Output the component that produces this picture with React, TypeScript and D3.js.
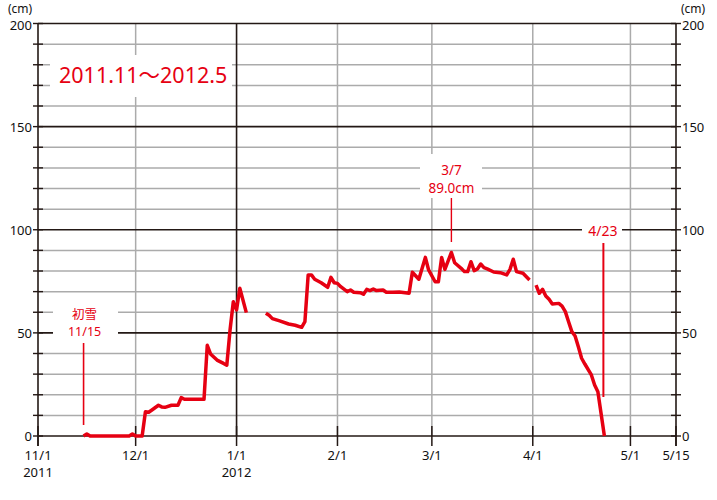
import React from "react";
import * as d3 from "d3";

// ---- data ----
const obsDates: string[] = [
  "2011-11-15","2011-11-16","2011-11-17","2011-11-29","2011-11-30","2011-12-01","2011-12-03",
  "2011-12-04","2011-12-05","2011-12-06","2011-12-08","2011-12-09","2011-12-10","2011-12-12",
  "2011-12-14","2011-12-15","2011-12-16","2011-12-22","2011-12-23","2011-12-24","2011-12-26",
  "2011-12-28","2011-12-29","2011-12-30","2011-12-31","2012-01-01","2012-01-02","2012-01-04",
  "2012-01-07",
  "2012-01-10","2012-01-11","2012-01-12","2012-01-14","2012-01-17","2012-01-19","2012-01-21",
  "2012-01-22","2012-01-23","2012-01-24","2012-01-25","2012-01-27","2012-01-29","2012-01-30",
  "2012-01-31","2012-02-01","2012-02-02","2012-02-04","2012-02-05","2012-02-06","2012-02-08",
  "2012-02-09","2012-02-10","2012-02-11","2012-02-12","2012-02-13","2012-02-15","2012-02-16",
  "2012-02-18","2012-02-20","2012-02-23","2012-02-24","2012-02-26","2012-02-28","2012-02-29",
  "2012-03-02","2012-03-03","2012-03-04","2012-03-05","2012-03-07","2012-03-08","2012-03-10",
  "2012-03-11","2012-03-12","2012-03-13","2012-03-14","2012-03-15","2012-03-16","2012-03-17",
  "2012-03-18","2012-03-20","2012-03-22","2012-03-24","2012-03-25","2012-03-26","2012-03-27",
  "2012-03-29","2012-03-31",
  "2012-04-01",
  "2012-04-02","2012-04-03","2012-04-04","2012-04-05","2012-04-06","2012-04-07","2012-04-09",
  "2012-04-10","2012-04-11","2012-04-12","2012-04-13","2012-04-14","2012-04-15","2012-04-16",
  "2012-04-17","2012-04-19","2012-04-20","2012-04-21","2012-04-23",
];
const snowDepth: (number | null)[] = [
  0, 1, 0, 0, 1, 0, 0,
  11.8, 11.5, 12.6, 14.9, 14.1, 13.9, 14.9,
  14.9, 18.6, 17.8, 17.8, 44, 39.8, 36.8,
  35.2, 34.3, 51.4, 65.1, 61.1, 71.6, 59.8,
  null,
  59.5, 58.5, 56.9, 55.9, 54.3, 53.7, 52.7,
  55.4, 78.1, 78.1, 76, 74.3, 72.1, 76.9,
  74.3, 74, 72.4, 70, 70.8, 69.7, 69.5,
  68.7, 71.1, 70.5, 71.3, 70.5, 70.8, 69.7,
  69.7, 69.8, 69.2, 79.4, 76, 86.6, 80.5,
  74.8, 74.8, 86.6, 80.8, 89.0, 84, 81.3,
  79.7, 79.7, 84.5, 80.2, 81, 83.4, 81.6,
  81, 79.5, 79.2, 78.1, 80.8, 85.7, 79.7,
  78.9, 75.6,
  null,
  73.2, 69.2, 71.1, 67.9, 66.3, 64, 64.3,
  63, 60.3, 55.4, 50.6, 48.5, 43.3, 37.7,
  34.9, 29.6, 24.7, 21.5, 0,
];

const xTickDates: string[] = ["2011-11-01","2011-12-01","2012-01-01","2012-02-01","2012-03-01","2012-04-01","2012-05-01","2012-05-15"];
const xTickLabels: string[] = ["11/1","12/1","1/1","2/1","3/1","4/1","5/1","5/15"];
const yearLabels: string[] = ["2011","","2012","","","","",""];
const yMajorTicks: number[] = [0, 50, 100, 150, 200];
const yMinorTicks: number[] = [10,20,30,40,60,70,80,90,110,120,130,140,160,170,180,190];
const yAllTicks: number[] = d3.range(0, 201, 10);

const titleText = "2011.11〜2012.5";
const firstSnowDate = "2011-11-15";
const firstSnowLabel = ["初雪", "11/15"];
const peakDate = "2012-03-07";
const peakLabel = ["3/7", "89.0cm"];
const meltDate = "2012-04-23";
const meltLabel = "4/23";

const RED = "#e60012";
const BLACK = "#231815";
const GRAY = "#ababab";
const FONT = "'Noto Sans', 'Noto Sans CJK JP', sans-serif";

export default function App() {
  const W = 717, H = 500;
  const parse = d3.timeParse("%Y-%m-%d");
  const x = d3.scaleTime()
    .domain([parse("2011-11-01")!, parse("2012-05-15")!])
    .range([38, 676]);
  const y = d3.scaleLinear().domain([0, 200]).range([436, 23.5]);
  const x0 = x.range()[0], x1 = x.range()[1];
  const yBot = y(0), yTop = y(200);

  const pts = obsDates.map((d, i) => ({ date: parse(d)!, v: snowDepth[i] }));
  const line = d3.line<{ date: Date; v: number | null }>()
    .defined((d) => d.v !== null)
    .x((d) => x(d.date))
    .y((d) => y(d.v as number));

  const monthTicks = xTickDates.map((d) => parse(d)!);
  const fsX = x(parse(firstSnowDate)!);
  const pkX = x(parse(peakDate)!);
  const mlX = x(parse(meltDate)!);

  return (
    <svg width={W} height={H} style={{ position: "absolute", left: 0, top: 0, background: "#fff" }} fontFamily={FONT}>
      <rect x={0} y={0} width={W} height={H} fill="#fff" />
      {/* minor horizontal gridlines */}
      {yMinorTicks.map((t) => (
        <line key={"hg" + t} x1={x0} x2={x1} y1={y(t)} y2={y(t)} stroke={GRAY} strokeWidth={1.5} />
      ))}
      {/* vertical gridlines */}
      {monthTicks.slice(1, 7).map((d, i) => (
        <line key={"vg" + i} x1={x(d)} x2={x(d)} y1={yTop} y2={yBot} stroke={i === 1 ? BLACK : GRAY} strokeWidth={i === 1 ? 1.6 : 1.5} />
      ))}
      {/* major horizontal lines */}
      {yMajorTicks.map((t) => (
        <line key={"hm" + t} x1={x0} x2={x1} y1={y(t)} y2={y(t)} stroke={BLACK} strokeWidth={1.6} />
      ))}
      {/* axes */}
      <line x1={x0} x2={x0} y1={yTop} y2={446} stroke={BLACK} strokeWidth={1.6} />
      <line x1={x1} x2={x1} y1={yTop} y2={446} stroke={BLACK} strokeWidth={1.6} />
      {yAllTicks.map((t) => (
        <g key={"yt" + t}>
          <line x1={x0 - 5} x2={x0 + 5} y1={y(t)} y2={y(t)} stroke={BLACK} strokeWidth={1.4} />
          <line x1={x1 - 5} x2={x1 + 5} y1={y(t)} y2={y(t)} stroke={BLACK} strokeWidth={1.4} />
        </g>
      ))}
      {monthTicks.map((d, i) => (
        <line key={"xt" + i} x1={x(d)} x2={x(d)} y1={426} y2={446} stroke={BLACK} strokeWidth={1.5} />
      ))}
      {/* y labels */}
      {yMajorTicks.map((t) => (
        <g key={"yl" + t} fontSize={13} fill="#111">
          <text x={32} y={y(t) + (t === 200 ? 1 : 0)} textAnchor="end" dominantBaseline="central">{t}</text>
          <text x={682} y={y(t) + (t === 200 ? 1 : 0)} textAnchor="start" dominantBaseline="central">{t}</text>
        </g>
      ))}
      <text x={8} y={12.5} fontSize={12} fill="#111">(cm)</text>
      <text x={681} y={12.5} fontSize={12} fill="#111">(cm)</text>
      {/* x labels */}
      {monthTicks.map((d, i) => (
        <g key={"xl" + i} fontSize={13} fill="#111" textAnchor="middle">
          <text x={x(d)} y={460}>{xTickLabels[i]}</text>
          {yearLabels[i] && <text x={x(d)} y={477}>{yearLabels[i]}</text>}
        </g>
      ))}
      {/* title box */}
      <rect x={50} y={55} width={182} height={42} fill="#fff" />
      <text x={59} y={83} fontSize={21.5} fill={RED}>{titleText}</text>
      {/* first snow annotation */}
      <rect x={53} y={298} width={65} height={44} fill="#fff" />
      <text x={fsX + 1} y={318.5} fontSize={12.5} fill={RED} textAnchor="middle">{firstSnowLabel[0]}</text>
      <text x={fsX + 1} y={336} fontSize={12.5} fill={RED} textAnchor="middle">{firstSnowLabel[1]}</text>
      <line x1={fsX} x2={fsX} y1={343} y2={425} stroke={RED} strokeWidth={1.6} />
      {/* peak annotation */}
      <rect x={420} y={154} width={62} height={44} fill="#fff" />
      <text x={pkX} y={174.5} fontSize={13.5} fill={RED} textAnchor="middle">{peakLabel[0]}</text>
      <text x={pkX} y={193} fontSize={13.5} fill={RED} textAnchor="middle">{peakLabel[1]}</text>
      <line x1={pkX} x2={pkX} y1={198} y2={242} stroke={RED} strokeWidth={1.4} />
      {/* melt annotation */}
      <rect x={582} y={218} width={40} height={24} fill="#fff" />
      <text x={mlX - 1.5} y={236} fontSize={14} fill={RED} textAnchor="middle">{meltLabel}</text>
      <line x1={mlX - 1} x2={mlX - 1} y1={243} y2={397} stroke={RED} strokeWidth={2} />
      {/* data line */}
      <path d={line(pts as any) || ""} fill="none" stroke={RED} strokeWidth={3.5} strokeLinejoin="round" strokeLinecap="butt" />
    </svg>
  );
}
